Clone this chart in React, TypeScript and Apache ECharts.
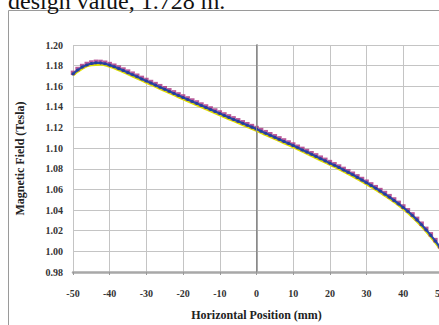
import React, { useEffect, useRef } from "react";
import * as echarts from "echarts";

const positions = [
  -50, -48.75, -47.5, -46.25, -45, -43.75, -42.5, -41.25,
  -40, -38.75, -37.5, -36.25, -35, -33.75, -32.5, -31.25,
  -30, -28.75, -27.5, -26.25, -25, -23.75, -22.5, -21.25,
  -20, -18.75, -17.5, -16.25, -15, -13.75, -12.5, -11.25,
  -10, -8.75, -7.5, -6.25, -5, -3.75, -2.5, -1.25,
  0, 1.25, 2.5, 3.75, 5, 6.25, 7.5, 8.75,
  10, 11.25, 12.5, 13.75, 15, 16.25, 17.5, 18.75,
  20, 21.25, 22.5, 23.75, 25, 26.25, 27.5, 28.75,
  30, 31.25, 32.5, 33.75, 35, 36.25, 37.5, 38.75,
  40, 41.25, 42.5, 43.75, 45, 46.25, 47.5, 48.75, 50,
];

const fieldBlue = [
  1.1720, 1.1757, 1.1786, 1.1806, 1.1820, 1.1827, 1.1826, 1.1818,
  1.1805, 1.1789, 1.1771, 1.1752, 1.1732, 1.1712, 1.1692, 1.1671,
  1.1651, 1.1631, 1.1611, 1.1591, 1.1571, 1.1551, 1.1531, 1.1511,
  1.1491, 1.1472, 1.1452, 1.1433, 1.1413, 1.1394, 1.1375, 1.1355,
  1.1336, 1.1317, 1.1298, 1.1279, 1.1260, 1.1241, 1.1222, 1.1204,
  1.1185, 1.1165, 1.1145, 1.1125, 1.1105, 1.1085, 1.1065, 1.1045,
  1.1025, 1.1004, 1.0983, 1.0962, 1.0941, 1.0920, 1.0898, 1.0877,
  1.0855, 1.0834, 1.0812, 1.0789, 1.0766, 1.0742, 1.0717, 1.0691,
  1.0665, 1.0639, 1.0612, 1.0584, 1.0555, 1.0525, 1.0493, 1.0460,
  1.0425, 1.0388, 1.0348, 1.0305, 1.0258, 1.0208, 1.0155, 1.0099, 1.0040,
];

const fieldMagenta = [
  1.1730, 1.1767, 1.1796, 1.1816, 1.1830, 1.1837, 1.1836, 1.1828,
  1.1815, 1.1799, 1.1781, 1.1762, 1.1742, 1.1722, 1.1702, 1.1681,
  1.1661, 1.1641, 1.1621, 1.1601, 1.1581, 1.1561, 1.1541, 1.1521,
  1.1501, 1.1482, 1.1462, 1.1443, 1.1423, 1.1404, 1.1385, 1.1365,
  1.1346, 1.1327, 1.1308, 1.1289, 1.1270, 1.1251, 1.1232, 1.1214,
  1.1195, 1.1175, 1.1155, 1.1135, 1.1115, 1.1095, 1.1075, 1.1055,
  1.1035, 1.1014, 1.0993, 1.0972, 1.0951, 1.0930, 1.0908, 1.0887,
  1.0865, 1.0844, 1.0822, 1.0799, 1.0776, 1.0752, 1.0727, 1.0701,
  1.0675, 1.0649, 1.0622, 1.0594, 1.0565, 1.0535, 1.0503, 1.0470,
  1.0435, 1.0398, 1.0358, 1.0315, 1.0268, 1.0218, 1.0165, 1.0109, 1.0050,
];

const positionsCoarse = [
  -50, -47.5, -45, -42.5, -40, -37.5, -35, -32.5, -30, -27.5,
  -25, -22.5, -20, -17.5, -15, -12.5, -10, -7.5, -5, -2.5,
  0, 2.5, 5, 7.5, 10, 12.5, 15, 17.5, 20, 22.5,
  25, 27.5, 30, 32.5, 35, 37.5, 40, 42.5, 45, 47.5, 50,
];

const fieldYellow = [
  1.1705, 1.1771, 1.1805, 1.1811, 1.1790, 1.1756, 1.1717, 1.1677, 1.1636, 1.1596,
  1.1556, 1.1516, 1.1476, 1.1437, 1.1398, 1.1360, 1.1321, 1.1283, 1.1245, 1.1207,
  1.1170, 1.1130, 1.1090, 1.1050, 1.1010, 1.0968, 1.0926, 1.0883, 1.0840, 1.0797,
  1.0751, 1.0702, 1.0650, 1.0597, 1.0540, 1.0478, 1.0410, 1.0333, 1.0243, 1.0140, 1.0025,
];

const captionText = "design value, 1.728 m.";
const xTitle = "Horizontal Position (mm)";
const yTitle = "Magnetic Field (Tesla)";

const serif = "'Liberation Serif', 'DejaVu Serif', serif";

export default function App() {
  const ref = useRef<HTMLDivElement>(null);
  useEffect(() => {
    if (!ref.current) return;
    const chart = echarts.init(ref.current, undefined, { renderer: "svg" });
    const zip = (xs: number[], ys: number[]) => xs.map((x, i) => [x, ys[i]]);
    chart.setOption({
      animation: false,
      backgroundColor: "#ffffff",
      grid: {
        left: 73,
        top: 45,
        width: 367,
        height: 227,
        containLabel: false,
        outerBoundsMode: "none",
      },
      xAxis: {
        type: "value",
        min: -50,
        max: 50,
        interval: 10,
        name: xTitle,
        nameLocation: "middle",
        nameGap: 37,
        nameTextStyle: { fontFamily: serif, fontWeight: "bold", fontSize: 12, color: "#222" },
        axisLine: { show: true, lineStyle: { color: "#a8a8a8", width: 2.5 } },
        axisTick: { show: true, length: 3, lineStyle: { color: "#999", width: 1 } },
        axisLabel: {
          fontFamily: serif,
          fontWeight: "bold",
          fontSize: 10,
          color: "#333",
          margin: 16,
          formatter: (v: number) => String(v),
        },
        splitLine: { show: true, lineStyle: { color: "#c4c4c4", width: 1 } },
      },
      yAxis: {
        type: "value",
        min: 0.98,
        max: 1.2,
        interval: 0.02,
        name: yTitle,
        nameLocation: "middle",
        nameGap: 47,
        nameTextStyle: { fontFamily: serif, fontWeight: "bold", fontSize: 12, color: "#222" },
        axisLine: { show: true, lineStyle: { color: "#a8a8a8", width: 2 } },
        axisTick: { show: false },
        axisLabel: {
          fontFamily: serif,
          fontWeight: "bold",
          fontSize: 10,
          color: "#333",
          margin: 10,
          formatter: (v: number) => v.toFixed(2),
        },
        splitLine: { show: true, lineStyle: { color: "#c4c4c4", width: 1 } },
      },
      graphic: [
        {
          type: "rect",
          shape: { x: 8.5, y: 10.5, width: 600, height: 400 },
          style: { fill: "none", stroke: "#9a9a9a", lineWidth: 1 },
          silent: true,
          z: 0,
        },
        {
          type: "text",
          x: 8,
          y: 13,
          style: {
            text: captionText,
            font: "24px 'Liberation Serif', serif",
            fill: "#111",
            verticalAlign: "bottom",
            align: "left",
          },
          z: 10,
        },
      ],
      series: [
        {
          type: "line",
          data: zip(positionsCoarse, fieldYellow),
          showSymbol: false,
          smooth: true,
          lineStyle: { color: "#dde000", width: 2.5 },
          z: 2,
          markLine: {
            silent: true,
            symbol: "none",
            label: { show: false },
            lineStyle: { color: "#8a8a8a", width: 1, type: "solid" },
            data: [{ xAxis: 0 }],
          },
        },
        {
          type: "scatter",
          data: zip(positions, fieldMagenta),
          symbol: "rect",
          symbolSize: 4.5,
          itemStyle: { color: "#a8307f" },
          z: 3,
        },
        {
          type: "line",
          data: zip(positions, fieldBlue),
          showSymbol: true,
          symbol: "circle",
          symbolSize: 3,
          itemStyle: { color: "#23409c" },
          lineStyle: { color: "#2848a8", width: 2.2 },
          z: 4,
        },
      ],
    });
    return () => chart.dispose();
  }, []);
  return (
    <div
      ref={ref}
      style={{ position: "fixed", left: 0, top: 0, width: 439, height: 325, background: "#fff" }}
    />
  );
}
